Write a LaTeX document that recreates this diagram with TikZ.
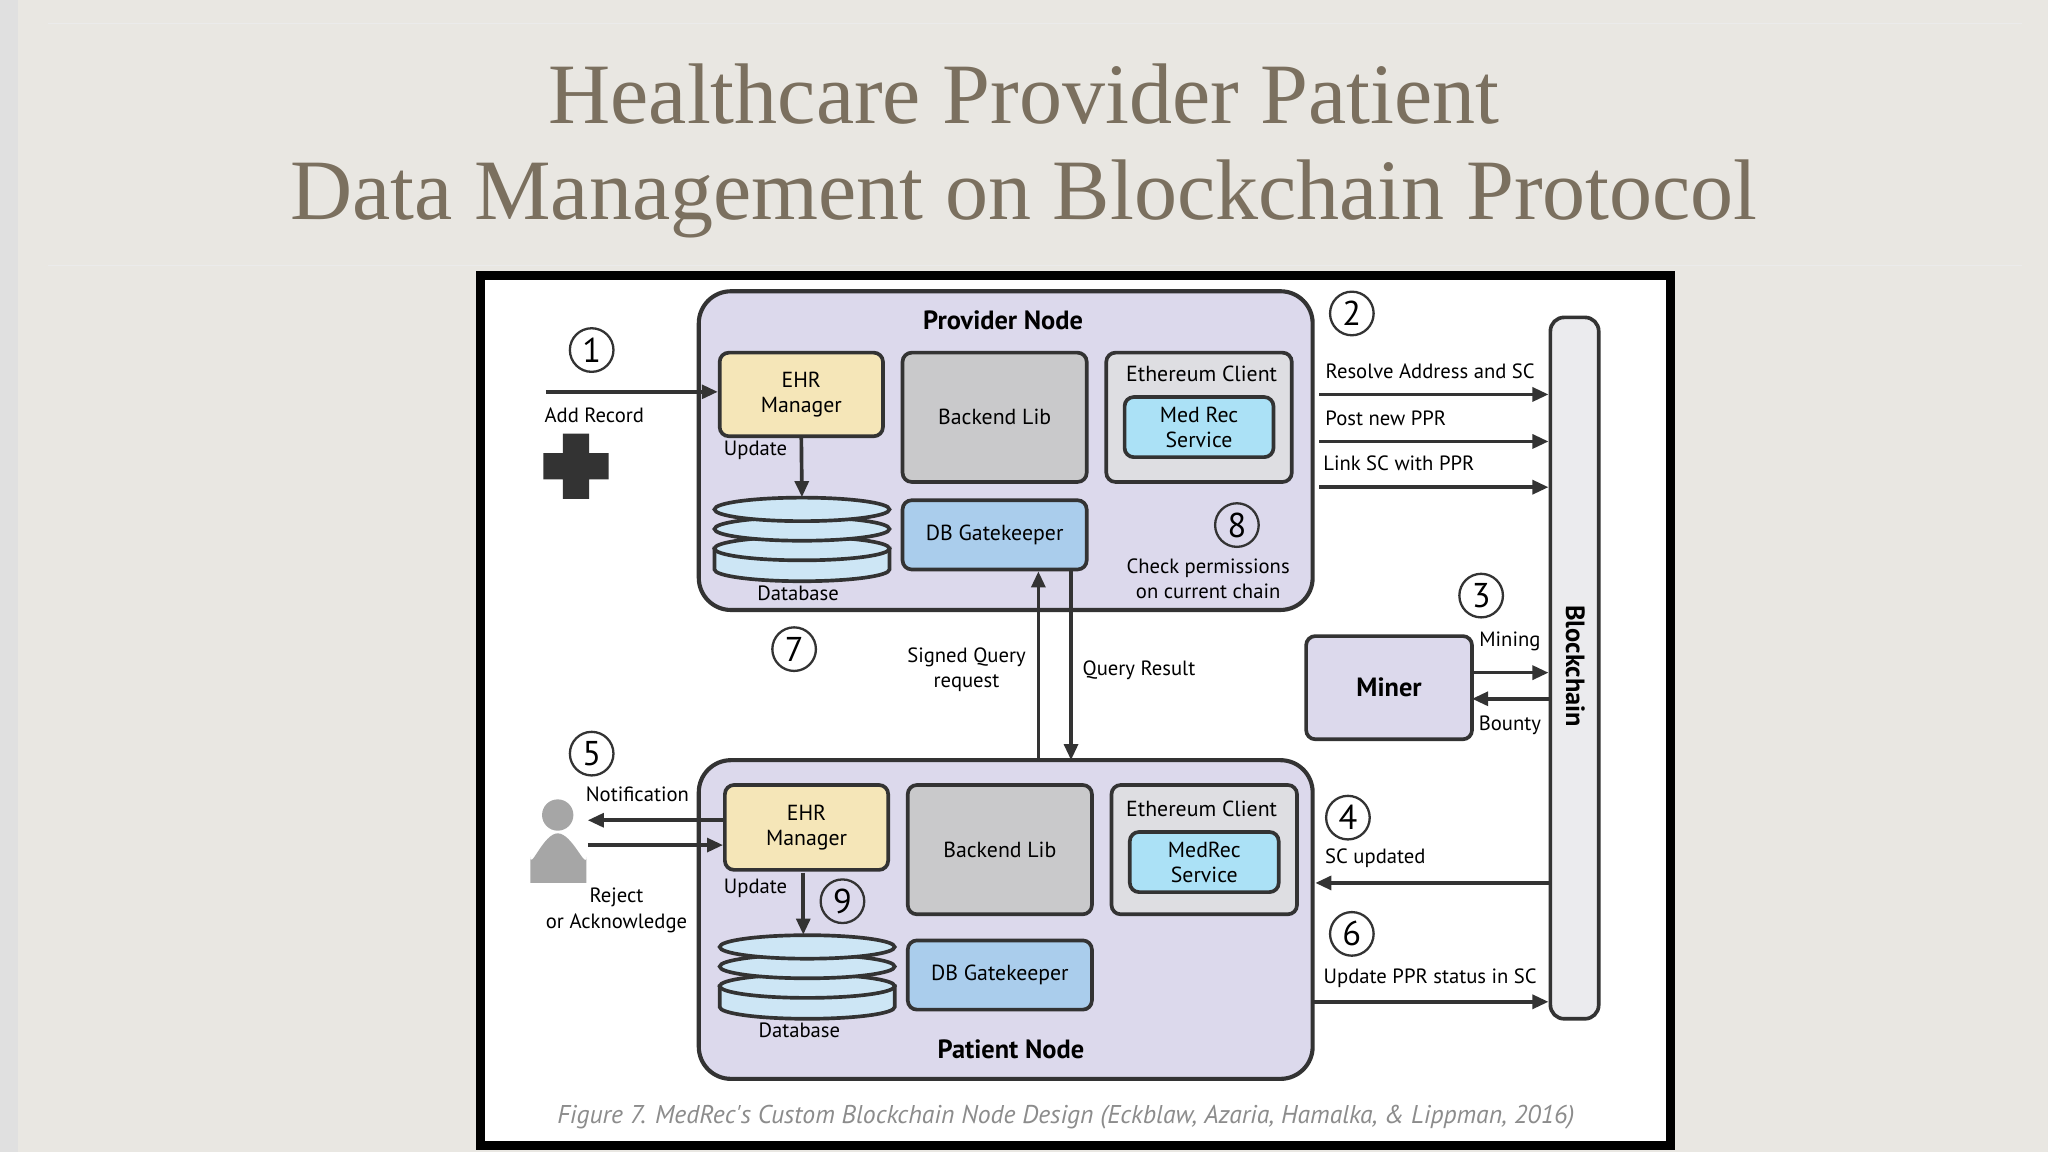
\documentclass[tikz,border=0pt]{standalone}
\usepackage{fontspec}
\setmainfont{Liberation Serif}
\newfontfamily\figfont{PT Sans}
\usetikzlibrary{positioning,arrows.meta}
\definecolor{slide}{HTML}{E9E7E2}
\definecolor{titlecol}{HTML}{7B705F}
\definecolor{nodebg}{HTML}{DCD9EC}
\definecolor{ehrcol}{HTML}{F5E6B8}
\definecolor{libcol}{HTML}{C9C9CB}
\definecolor{ethcol}{HTML}{DEDEE2}
\definecolor{medcol}{HTML}{ABE1F6}
\definecolor{gatecol}{HTML}{AACDEC}
\definecolor{dbcol}{HTML}{CDE6F5}
\definecolor{ink}{HTML}{333333}
\newcommand{\dbstack}[3]{% name, x, y (top)
  \fill[dbcol, draw=ink, line width=1.6pt] (#2-67,#3+30) -- (#2-67,#3+46) arc[start angle=180, end angle=0, x radius=67, y radius=9] -- (#2+67,#3+30) -- cycle;
  \foreach \dy in {30,15,0}
    \draw[fill=dbcol, draw=ink, line width=1.6pt] (#2,#3+\dy) ellipse[x radius=67, y radius=9];
  \node[inner sep=0pt, sz={134}{60}] (#1) at (#2,#3+21) {};
}
\begin{document}
\begin{tikzpicture}[x=0.02cm, y=-0.02cm,
    sz/.style 2 args={minimum width={#1*0.02cm}, minimum height={#2*0.02cm}},
    box/.style={draw=ink, line width=1.6pt, rounded corners=4pt, align=center, inner sep=0pt, font=\figfont\fontsize{9.5}{11}\selectfont},
    group/.style={draw=ink, line width=1.8pt, rounded corners=14pt, fill=nodebg},
    num/.style={draw=ink, circle, line width=1pt, minimum size=19pt, inner sep=0pt, font=\figfont\fontsize{15}{15}\selectfont},
    lbl/.style={align=center, inner sep=0pt, font=\figfont\fontsize{9}{11}\selectfont},
    bold/.style={inner sep=0pt, font=\figfont\bfseries\fontsize{11.5}{13}\selectfont},
    arr/.style={-{Triangle[length=7pt,width=6pt]}, draw=ink, line width=1.6pt}]
\useasboundingbox (0,0) rectangle (1568,882);
% slide background
\fill[slide] (0,0) rectangle (1568,882);
\fill[black!12] (0,0) rectangle (14,882);
\draw[black!8] (37,18) -- (1548,18) (37,203) -- (1548,203);
\node[text=titlecol, font=\fontsize{37.5}{40}\selectfont] (title1) at (784,72) {Healthcare Provider Patient};
\node[text=titlecol, font=\fontsize{37.5}{40}\selectfont] (title2) at (784,152) {Data Management on Blockchain Protocol};
% figure panel
\draw[fill=white, line width=4pt] (368,211) rectangle (1279,877);
% provider node
\draw[group] (535,223) rectangle (1005,467);
\node[bold] (ptitle) at (768,245) {Provider Node};
\node[box, fill=ehrcol, sz={125}{64}] (pehr) at (613.5,302) {EHR\\Manager};
\node[box, fill=libcol, sz={141}{99}] (plib) at (761.5,319.5) {Backend Lib};
\node[box, fill=ethcol, sz={142}{99}] (peth) at (918,319.5) {};
\node[lbl, font=\figfont\fontsize{9.5}{11}\selectfont] (pethl) at (920,286) {Ethereum Client};
\node[box, fill=medcol, sz={114}{46}] (pmed) at (918,327) {Med Rec\\Service};
\dbstack{pdb}{614}{390}
\node[lbl] (pdbl) at (611,454) {Database};
\node[box, fill=gatecol, sz={141}{53}] (pgate) at (761.5,409.5) {DB Gatekeeper};
\node[lbl, anchor=east] (pupd) at (603,345) {Update};
\draw[arr] (pehr.south) -- (pdb.north);
\node[num] (n8) at (947,402) {8};
\node[lbl] (n8l) at (925,443) {Check permissions\\on current chain};
% add record
\node[num] (n1) at (453,268) {1};
\coordinate (addin) at (418,300);
\draw[arr] (addin) -- (pehr.west |- addin);
\node[lbl] (addl) at (455,318) {Add Record};
\fill[ink] (431,332) rectangle (451,382) (416,347) rectangle (466,367);
% blockchain
\node[box, fill=ethcol!60, sz={37}{537}, rounded corners=6pt] (chain) at (1205.5,511.5) {};
\node[bold, rotate=-90] (chainl) at (1206,510) {Blockchain};
\node[num] (n2) at (1035,240) {2};
\foreach \yy/\txt/\xx in {302/Resolve Address and SC/1095, 338/Post new PPR/1061, 373/Link SC with PPR/1071}{
  \coordinate (s\yy) at (1010,\yy);
  \draw[arr] (s\yy) -- (chain.west |- s\yy);
  \node[lbl] at (\xx,\yy-18) {\txt};
}
% miner
\node[num] (n3) at (1134,456) {3};
\node[box, fill=nodebg, sz={127}{79}, font=\figfont\bfseries\fontsize{11.5}{13}\selectfont] (miner) at (1063.5,526.5) {Miner};
\coordinate (mine) at (1127,515);
\coordinate (bounty) at (1127,535);
\draw[arr] (mine) -- (chain.west |- mine);
\draw[arr] (chain.west |- bounty) -- (bounty);
\node[lbl] (minel) at (1156,491) {Mining};
\node[lbl] (bountl) at (1156,555) {Bounty};
% patient node
\draw[group] (535,582) rectangle (1005,826);
\node[bold] (ttitle) at (774,803) {Patient Node};
\node[box, fill=ehrcol, sz={125}{65}] (tehr) at (617.5,633.5) {EHR\\Manager};
\node[box, fill=libcol, sz={141}{99}] (tlib) at (765.5,650.5) {Backend Lib};
\node[box, fill=ethcol, sz={142}{99}] (teth) at (922,650.5) {};
\node[lbl, font=\figfont\fontsize{9.5}{11}\selectfont] (tethl) at (920,619) {Ethereum Client};
\node[box, fill=medcol, sz={114}{46}] (tmed) at (922,660) {MedRec\\Service};
\dbstack{tdb}{618}{725}
\node[lbl] (tdbl) at (612,789) {Database};
\node[box, fill=gatecol, sz={141}{53}] (tgate) at (765.5,746.5) {DB Gatekeeper};
\node[lbl, anchor=east] (tupd) at (603,680) {Update};
\node[num] (n9) at (645,690) {9};
\coordinate (updtop) at (615,668);
\draw[arr] (updtop) -- (updtop |- tdb.north);
% queries
\node[num] (n7) at (608,497) {7};
\coordinate (sqin) at (795,582);
\coordinate (qrout) at (820,582);
\draw[arr] (sqin) -- (sqin |- pgate.south);
\draw[arr] (qrout |- pgate.south) -- (qrout);
\node[lbl] (sqr) at (740,513) {Signed Query\\request};
\node[lbl] (qres) at (872,513) {Query Result};
% patient
\node[num] (n5) at (453,577) {5};
\node[lbl] (notl) at (488,608) {Notification};
\fill[black!35] (427,624) circle (12) (406,676) -- (406,656) to[out=-90, in=180] (427,638) to[out=0, in=-90] (449,656) -- (449,676) -- cycle;
\coordinate (patout) at (450,628);
\coordinate (patin) at (450,647);
\draw[arr] (tehr.west |- patout) -- (patout);
\draw[arr] (patin) -- (tehr.west |- patin);
\node[lbl] (rejl) at (472,697) {Reject\\or Acknowledge};
% updates to patient
\node[num] (n4) at (1032,626) {4};
\node[lbl] (scu) at (1053,657) {SC updated};
\coordinate (scin) at (1007,676);
\draw[arr] (chain.west |- scin) -- (scin);
\node[num] (n6) at (1035,715) {6};
\node[lbl] (ppr) at (1095,749) {Update PPR status in SC};
\coordinate (pprout) at (1005,767);
\draw[arr] (pprout) -- (chain.west |- pprout);
% caption
\node[text=black!45, font=\figfont\itshape\fontsize{11.2}{13}\selectfont] (cap) at (816,855) {Figure 7. MedRec's Custom Blockchain Node Design (Eckblaw, Azaria, Hamalka, \& Lippman, 2016)};
\end{tikzpicture}
\end{document}
